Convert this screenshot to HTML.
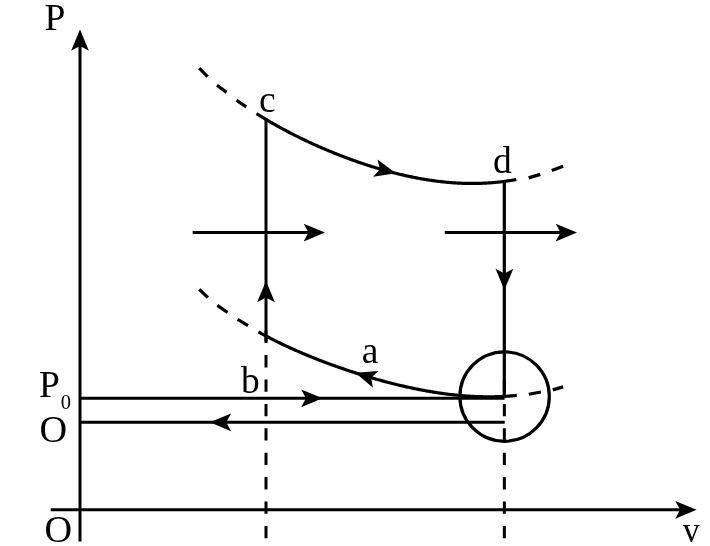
<!DOCTYPE html>
<html><head><meta charset="utf-8"><style>
html,body{margin:0;padding:0;background:#fff;width:710px;height:546px;overflow:hidden}
svg{display:block;will-change:transform}
</style></head><body>
<svg width="710" height="546" viewBox="0 0 710 546">
<rect width="710" height="546" fill="#fff"/>
<g stroke="#000" stroke-width="3.0" fill="none">
<path d="M80 541.6 L80 40" />
<path d="M50.7 509.85 L686 509.85" />
<path d="M199.2 68.2 L207.6 76.65" stroke-width="3.2"/>
<path d="M217.0 85.2 L226.6 92.4" stroke-width="3.2"/>
<path d="M236.5 100.2 L246.2 106.9" stroke-width="3.2"/>
<path d="M528.6 177.9 L540.3 174.4" stroke-width="3.2"/>
<path d="M551.8 170.5 L563.1 166.3" stroke-width="3.2"/>
<path d="M199.3 289.4 L207.9 297.6" stroke-width="3.2"/>
<path d="M217.4 305.4 L227.5 312.5" stroke-width="3.2"/>
<path d="M237.6 319.4 L248.0 325.6" stroke-width="3.2"/>
<path d="M528.8 394.3 L540.9 392.0" stroke-width="3.2"/>
<path d="M552.8 389.9 L563.1 386.9" stroke-width="3.2"/>
<path d="M256.50 113.60 L257.50 114.23 L258.50 114.86 L259.50 115.48 L260.50 116.10 L261.50 116.72 L262.50 117.33 L263.50 117.94 L264.50 118.54 L265.50 119.14 L266.50 119.74 L267.50 120.33 L268.50 120.92 L269.50 121.51 L270.50 122.09 L271.50 122.67 L272.50 123.25 L273.50 123.82 L274.50 124.39 L275.50 124.95 L276.50 125.52 L277.50 126.07 L278.50 126.63 L279.50 127.18 L280.50 127.73 L281.50 128.28 L282.50 128.82 L283.50 129.36 L284.50 129.90 L285.50 130.43 L286.50 130.96 L287.50 131.49 L288.50 132.01 L289.50 132.53 L290.50 133.05 L291.50 133.56 L292.50 134.08 L293.50 134.59 L294.50 135.09 L295.50 135.60 L296.50 136.10 L297.50 136.60 L298.50 137.09 L299.50 137.58 L300.50 138.07 L301.50 138.56 L302.50 139.04 L303.50 139.52 L304.50 140.00 L305.50 140.48 L306.50 140.95 L307.50 141.42 L308.50 141.89 L309.50 142.36 L310.50 142.82 L311.50 143.28 L312.50 143.74 L313.50 144.19 L314.50 144.64 L315.50 145.09 L316.50 145.54 L317.50 145.99 L318.50 146.43 L319.50 146.87 L320.50 147.31 L321.50 147.74 L322.50 148.17 L323.50 148.60 L324.50 149.03 L325.50 149.46 L326.50 149.88 L327.50 150.30 L328.50 150.72 L329.50 151.13 L330.50 151.55 L331.50 151.96 L332.50 152.36 L333.50 152.77 L334.50 153.17 L335.50 153.57 L336.50 153.97 L337.50 154.37 L338.50 154.76 L339.50 155.15 L340.50 155.54 L341.50 155.93 L342.50 156.31 L343.50 156.70 L344.50 157.08 L345.50 157.45 L346.50 157.83 L347.50 158.20 L348.50 158.57 L349.50 158.94 L350.50 159.30 L351.50 159.67 L352.50 160.03 L353.50 160.39 L354.50 160.74 L355.50 161.10 L356.50 161.45 L357.50 161.79 L358.50 162.14 L359.50 162.49 L360.50 162.83 L361.50 163.17 L362.50 163.50 L363.50 163.84 L364.50 164.17 L365.50 164.50 L366.50 164.83 L367.50 165.15 L368.50 165.47 L369.50 165.79 L370.50 166.11 L371.50 166.42 L372.50 166.74 L373.50 167.05 L374.50 167.35 L375.50 167.66 L376.50 167.96 L377.50 168.26 L378.50 168.56 L379.50 168.85 L380.50 169.14 L381.50 169.43 L382.50 169.72 L383.50 170.01 L384.50 170.29 L385.50 170.57 L386.50 170.84 L387.50 171.12 L388.50 171.39 L389.50 171.66 L390.50 171.92 L391.50 172.19 L392.50 172.45 L393.50 172.71 L394.50 172.96 L395.50 173.22 L396.50 173.47 L397.50 173.71 L398.50 173.96 L399.50 174.20 L400.50 174.44 L401.50 174.68 L402.50 174.91 L403.50 175.14 L404.50 175.37 L405.50 175.60 L406.50 175.82 L407.50 176.04 L408.50 176.25 L409.50 176.47 L410.50 176.68 L411.50 176.89 L412.50 177.09 L413.50 177.29 L414.50 177.49 L415.50 177.69 L416.50 177.88 L417.50 178.07 L418.50 178.26 L419.50 178.45 L420.50 178.63 L421.50 178.80 L422.50 178.98 L423.50 179.15 L424.50 179.32 L425.50 179.49 L426.50 179.65 L427.50 179.81 L428.50 179.97 L429.50 180.12 L430.50 180.27 L431.50 180.42 L432.50 180.56 L433.50 180.70 L434.50 180.84 L435.50 180.97 L436.50 181.10 L437.50 181.23 L438.50 181.35 L439.50 181.47 L440.50 181.59 L441.50 181.70 L442.50 181.81 L443.50 181.92 L444.50 182.02 L445.50 182.12 L446.50 182.22 L447.50 182.31 L448.50 182.40 L449.50 182.49 L450.50 182.57 L451.50 182.65 L452.50 182.73 L453.50 182.80 L454.50 182.87 L455.50 182.93 L456.50 182.99 L457.50 183.05 L458.50 183.10 L459.50 183.15 L460.50 183.20 L461.50 183.24 L462.50 183.28 L463.50 183.32 L464.50 183.35 L465.50 183.38 L466.50 183.40 L467.50 183.42 L468.50 183.44 L469.50 183.45 L470.50 183.46 L471.50 183.46 L472.50 183.46 L473.50 183.46 L474.50 183.45 L475.50 183.44 L476.50 183.43 L477.50 183.41 L478.50 183.39 L479.50 183.36 L480.50 183.33 L481.50 183.30 L482.50 183.26 L483.50 183.21 L484.50 183.17 L485.50 183.12 L486.50 183.06 L487.50 183.00 L488.50 182.94 L489.50 182.87 L490.50 182.80 L491.50 182.73 L492.50 182.65 L493.50 182.56 L494.50 182.47 L495.50 182.38 L496.50 182.28 L497.50 182.18 L498.50 182.08 L499.50 181.97 L500.50 181.86 L501.50 181.74 L502.50 181.62 L503.50 181.49 L504.50 181.36 L505.50 181.22 L506.50 181.08 L507.50 180.94 L508.50 180.79 L509.50 180.64 L510.50 180.48 L511.50 180.32 L512.50 180.15 L513.50 179.98 L514.50 179.81 L515.50 179.63 L516.30 179.48" stroke-width="3.2"/>
<path d="M258.40 331.87 L259.40 332.43 L260.40 332.98 L261.40 333.53 L262.40 334.08 L263.40 334.62 L264.40 335.16 L265.40 335.69 L266.40 336.22 L267.40 336.75 L268.40 337.27 L269.40 337.79 L270.40 338.31 L271.40 338.82 L272.40 339.33 L273.40 339.84 L274.40 340.34 L275.40 340.84 L276.40 341.34 L277.40 341.83 L278.40 342.32 L279.40 342.81 L280.40 343.29 L281.40 343.77 L282.40 344.25 L283.40 344.73 L284.40 345.20 L285.40 345.67 L286.40 346.14 L287.40 346.60 L288.40 347.06 L289.40 347.52 L290.40 347.97 L291.40 348.43 L292.40 348.88 L293.40 349.33 L294.40 349.77 L295.40 350.21 L296.40 350.65 L297.40 351.09 L298.40 351.53 L299.40 351.96 L300.40 352.39 L301.40 352.82 L302.40 353.24 L303.40 353.67 L304.40 354.09 L305.40 354.51 L306.40 354.92 L307.40 355.34 L308.40 355.75 L309.40 356.16 L310.40 356.56 L311.40 356.97 L312.40 357.37 L313.40 357.77 L314.40 358.17 L315.40 358.57 L316.40 358.96 L317.40 359.36 L318.40 359.75 L319.40 360.14 L320.40 360.52 L321.40 360.91 L322.40 361.29 L323.40 361.67 L324.40 362.05 L325.40 362.42 L326.40 362.80 L327.40 363.17 L328.40 363.54 L329.40 363.91 L330.40 364.28 L331.40 364.64 L332.40 365.00 L333.40 365.37 L334.40 365.73 L335.40 366.08 L336.40 366.44 L337.40 366.79 L338.40 367.14 L339.40 367.50 L340.40 367.84 L341.40 368.19 L342.40 368.53 L343.40 368.88 L344.40 369.22 L345.40 369.56 L346.40 369.90 L347.40 370.23 L348.40 370.57 L349.40 370.90 L350.40 371.23 L351.40 371.56 L352.40 371.88 L353.40 372.21 L354.40 372.53 L355.40 372.86 L356.40 373.18 L357.40 373.49 L358.40 373.81 L359.40 374.12 L360.40 374.44 L361.40 374.75 L362.40 375.06 L363.40 375.37 L364.40 375.67 L365.40 375.98 L366.40 376.28 L367.40 376.58 L368.40 376.88 L369.40 377.17 L370.40 377.47 L371.40 377.76 L372.40 378.05 L373.40 378.34 L374.40 378.63 L375.40 378.92 L376.40 379.20 L377.40 379.48 L378.40 379.77 L379.40 380.04 L380.40 380.32 L381.40 380.60 L382.40 380.87 L383.40 381.14 L384.40 381.41 L385.40 381.68 L386.40 381.94 L387.40 382.21 L388.40 382.47 L389.40 382.73 L390.40 382.99 L391.40 383.24 L392.40 383.50 L393.40 383.75 L394.40 384.00 L395.40 384.25 L396.40 384.49 L397.40 384.74 L398.40 384.98 L399.40 385.22 L400.40 385.46 L401.40 385.69 L402.40 385.93 L403.40 386.16 L404.40 386.39 L405.40 386.62 L406.40 386.84 L407.40 387.07 L408.40 387.29 L409.40 387.51 L410.40 387.73 L411.40 387.94 L412.40 388.15 L413.40 388.36 L414.40 388.57 L415.40 388.78 L416.40 388.98 L417.40 389.18 L418.40 389.38 L419.40 389.58 L420.40 389.78 L421.40 389.97 L422.40 390.16 L423.40 390.35 L424.40 390.53 L425.40 390.71 L426.40 390.90 L427.40 391.07 L428.40 391.25 L429.40 391.42 L430.40 391.59 L431.40 391.76 L432.40 391.93 L433.40 392.09 L434.40 392.25 L435.40 392.41 L436.40 392.57 L437.40 392.72 L438.40 392.87 L439.40 393.02 L440.40 393.17 L441.40 393.31 L442.40 393.45 L443.40 393.59 L444.40 393.72 L445.40 393.86 L446.40 393.99 L447.40 394.11 L448.40 394.24 L449.40 394.36 L450.40 394.48 L451.40 394.59 L452.40 394.71 L453.40 394.82 L454.40 394.92 L455.40 395.03 L456.40 395.13 L457.40 395.23 L458.40 395.33 L459.40 395.42 L460.40 395.51 L461.40 395.60 L462.40 395.68 L463.40 395.76 L464.40 395.84 L465.40 395.92 L466.40 395.99 L467.40 396.06 L468.40 396.12 L469.40 396.19 L470.40 396.25 L471.40 396.30 L472.40 396.36 L473.40 396.41 L474.40 396.46 L475.40 396.50 L476.40 396.54 L477.40 396.58 L478.40 396.62 L479.40 396.65 L480.40 396.68 L481.40 396.70 L482.40 396.72 L483.40 396.74 L484.40 396.76 L485.40 396.77 L486.40 396.78 L487.40 396.78 L488.40 396.78 L489.40 396.78 L490.40 396.78 L491.40 396.77 L492.40 396.76 L493.40 396.74 L494.40 396.73 L495.40 396.70 L496.40 396.68 L497.40 396.65 L498.40 396.62 L499.40 396.58 L500.40 396.54 L501.40 396.50 L502.40 396.45 L503.40 396.40 L504.40 396.35 L505.40 396.29 L506.40 396.23 L507.40 396.17 L508.40 396.10 L509.40 396.03 L510.40 395.96 L511.40 395.88 L512.40 395.79 L513.40 395.71 L514.40 395.62 L515.40 395.53 L516.40 395.43 L516.80 395.39" stroke-width="3.2"/>
<path d="M266 118.44 L266 341.6" />
<path d="M266 330.7 L266 538.2" stroke-dasharray="12.3 12.1"/>
<path d="M504.3 180.38 L504.3 397.9" stroke-width="3.2"/>
<path d="M504.35 379.5 L504.35 538.2" stroke-dasharray="12.3 12.1"/>
<path d="M192.7 232.6 L314 232.6"/>
<path d="M444.8 232.6 L566 232.6"/>
<path d="M80 398.3 L504.6 398.3"/>
<path d="M80 422.3 L504.7 422.3"/>
<circle cx="504.6" cy="396.6" r="44.7" fill="none" stroke-width="3.2"/>
</g>
<g fill="#000" stroke="none">
<path d="M80.00 29.50 L71.10 50.80 L80.00 46.00 L88.90 50.80 Z"/>
<path d="M696.60 509.80 L675.30 500.90 L680.10 509.80 L675.30 518.70 Z"/>
<path d="M396.00 173.34 L377.50 159.54 L379.99 169.34 L373.18 176.80 Z"/>
<path d="M355.40 372.86 L372.96 387.84 L371.11 377.90 L378.40 370.89 Z"/>
<path d="M266.00 281.00 L257.10 302.30 L266.00 297.50 L274.90 302.30 Z"/>
<path d="M504.40 290.00 L513.30 268.70 L504.40 273.50 L495.50 268.70 Z"/>
<path d="M325.00 232.60 L303.70 223.70 L308.50 232.60 L303.70 241.50 Z"/>
<path d="M577.00 232.60 L555.70 223.70 L560.50 232.60 L555.70 241.50 Z"/>
<path d="M322.50 398.30 L301.20 389.40 L306.00 398.30 L301.20 407.20 Z"/>
<path d="M209.80 422.30 L231.10 431.20 L226.30 422.30 L231.10 413.40 Z"/>
</g>
<g style='font-family:"Liberation Serif", serif' fill="#000">

<text x="44.5" y="30.2" font-size="37.5">P</text>
<text x="259" y="112" font-size="37.5">c</text>
<text x="493" y="172.6" font-size="37.5">d</text>
<text x="361.7" y="362.7" font-size="37.5">a</text>
<text x="241.0" y="393.2" font-size="37.5">b</text>
<text x="39" y="397" font-size="37.5">P</text>
<text x="60.7" y="408.6" font-size="20.5">0</text>
<text x="39.5" y="441.8" font-size="38.2">O</text>
<text x="44.4" y="541.9" font-size="38.2">O</text>
<text transform="translate(691.35 542.3) scale(0.93 1)" text-anchor="middle" font-size="36.5">v</text>

</g>
</svg>
</body></html>
